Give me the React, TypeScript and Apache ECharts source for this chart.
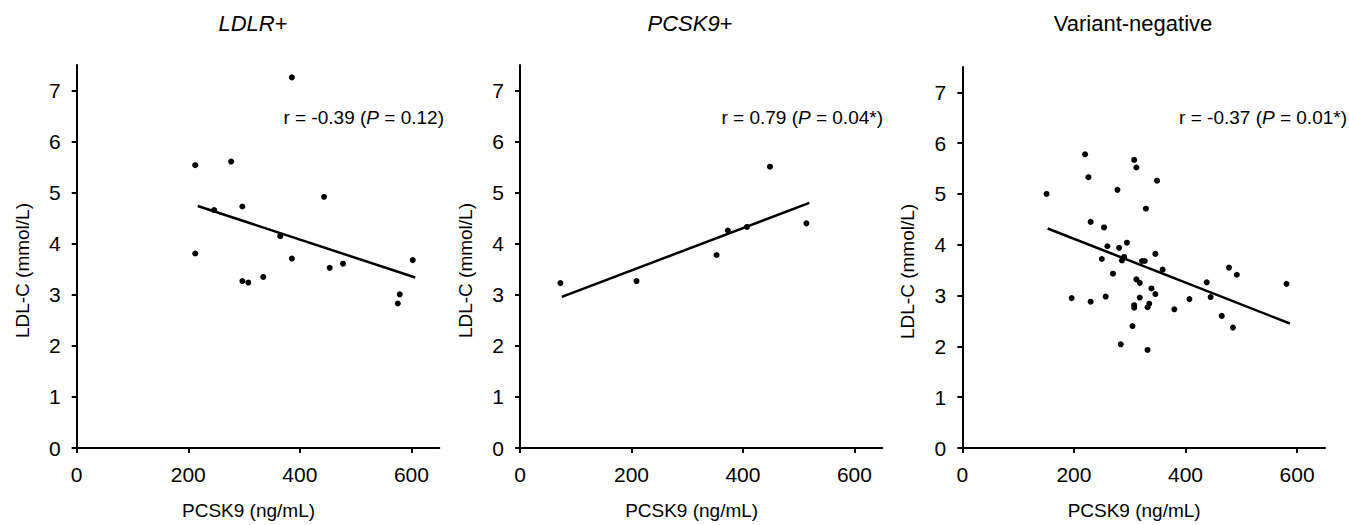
import React, { useEffect, useRef } from "react";
import * as echarts from "echarts";

const panelTitles = ["LDLR", "PCSK9", "Variant-negative"];
const titleItalic = [true, true, false];
const annotations = [
  ["r = -0.39 (", "P", " = 0.12)"],
  ["r = 0.79 (", "P", " = 0.04*)"],
  ["r = -0.37 (", "P", " = 0.01*)"],
];
const xTicks = [0, 200, 400, 600];
const yTicks = [0, 1, 2, 3, 4, 5, 6, 7];
const xAxisName = "PCSK9 (ng/mL)";
const yAxisName = "LDL-C (mmol/L)";

const ldlrPoints: [number, number][] = [
  [385.7, 7.26], [212.5, 5.54], [276.8, 5.61], [443.4, 4.92], [246.4, 4.66],
  [297, 4.73], [364.9, 4.15], [212.5, 3.81], [385.7, 3.71], [602.4, 3.68],
  [477.4, 3.61], [453.5, 3.53], [334.5, 3.35], [297, 3.27], [307.7, 3.24],
  [579.1, 3.01], [575.6, 2.83],
];
const pcsk9Points: [number, number][] = [
  [72.5, 3.23], [209, 3.27], [352.7, 3.78], [373, 4.26], [407.2, 4.33],
  [448.5, 5.51], [513.8, 4.4],
];
const negativePoints: [number, number][] = [
  [151, 5.0], [220, 5.78], [226, 5.33], [230, 4.45], [196, 2.95],
  [230, 2.88], [254, 4.34], [260, 3.97], [250, 3.72], [257, 2.98],
  [270, 3.43], [278, 5.08], [281, 3.94], [295, 4.04], [290, 3.76],
  [286, 3.69], [284, 2.04], [308, 5.67], [312, 5.52], [329, 4.71],
  [349, 5.26], [346, 3.82], [322, 3.68], [327, 3.68], [359, 3.51],
  [312, 3.32], [318, 3.25], [339, 3.14], [346, 3.03], [318, 2.96],
  [308, 2.81], [308, 2.76], [335, 2.84], [332, 2.77], [305, 2.4],
  [332, 1.93], [380, 2.73], [407, 2.93], [438, 3.26], [445, 2.97],
  [465, 2.6], [478, 3.55], [492, 3.41], [485, 2.37], [581, 3.23],
];
const ldlrFit: [number, number][] = [[217, 4.74], [607, 3.34]];
const pcsk9Fit: [number, number][] = [[75, 2.96], [519, 4.8]];
const negativeFit: [number, number][] = [[153, 4.32], [587, 2.45]];

const FONT = "'Liberation Sans', Arial, Helvetica, sans-serif";
const INK = "#000";

const grids = [
  { left: 76.7, top: 65.1, width: 362.6, height: 388.2 },
  { left: 520, top: 65.1, width: 362.3, height: 388.2 },
  { left: 962.3, top: 66.9, width: 362.7, height: 387.4 },
];
const titlePos = [248, 685, 1128];
const annotRight = [444, 883, 1347];

export default function App() {
  const ref = useRef<HTMLDivElement>(null);
  useEffect(() => {
    if (!ref.current) return;
    const chart = echarts.init(ref.current, undefined, { renderer: "svg" });
    const pointSets = [ldlrPoints, pcsk9Points, negativePoints];
    const fits = [ldlrFit, pcsk9Fit, negativeFit];
    const labelStyle = { fontFamily: FONT, fontSize: 21, color: INK };

    const xAxes = grids.map((_, i) => ({
      type: "value",
      gridIndex: i,
      min: 0,
      max: 650,
      name: xAxisName,
      nameLocation: "middle",
      nameGap: 53,
      nameTextStyle: { fontFamily: FONT, fontSize: 19, color: INK, padding: [0, 19, 0, 0] },
      splitLine: { show: false },
      axisLine: { show: true, onZero: false, lineStyle: { color: INK, width: 2 } },
      axisTick: { show: true, length: 5, inside: false, customValues: xTicks, lineStyle: { color: INK, width: 2 } },
      axisLabel: { show: true, customValues: xTicks, margin: 16, ...labelStyle },
    }));
    const yAxes = grids.map((_, i) => ({
      type: "value",
      gridIndex: i,
      min: 0,
      max: 7.5,
      name: yAxisName,
      nameLocation: "middle",
      nameGap: 45,
      nameTextStyle: { fontFamily: FONT, fontSize: 19, color: INK, padding: [0, 28, 0, 0] },
      splitLine: { show: false },
      axisLine: { show: true, onZero: false, lineStyle: { color: INK, width: 2 } },
      axisTick: { show: true, length: 5, inside: false, customValues: yTicks, lineStyle: { color: INK, width: 2 } },
      axisLabel: { show: true, customValues: yTicks, margin: 16, ...labelStyle },
    }));

    const series: any[] = [];
    pointSets.forEach((pts, i) => {
      series.push({
        type: "scatter",
        xAxisIndex: i,
        yAxisIndex: i,
        data: pts,
        symbol: "circle",
        symbolSize: 6,
        itemStyle: { color: "#000", opacity: 1 },
        z: 3,
      });
      series.push({
        type: "line",
        xAxisIndex: i,
        yAxisIndex: i,
        data: fits[i],
        symbol: "none",
        lineStyle: { color: "#000", width: 2.5, opacity: 1 },
        z: 2,
      });
    });

    const titles = panelTitles.map((t, i) => ({
      text: titleItalic[i] ? `{i|${t}}+` : t,
      left: titlePos[i],
      top: 7,
      textAlign: "center",
      textStyle: {
        fontFamily: FONT,
        fontSize: 22,
        fontWeight: "normal",
        color: INK,
        rich: { i: { fontFamily: FONT, fontSize: 22, fontStyle: "italic", color: INK } },
      },
    }));

    const graphic = annotations.map((a, i) => ({
      type: "text",
      x: annotRight[i],
      y: 117,
      style: {
        text: `${a[0]}{p|${a[1]}}${a[2]}`,
        align: "right",
        verticalAlign: "middle",
        fontFamily: FONT,
        fontSize: 19,
        fill: INK,
        rich: { p: { fontFamily: FONT, fontSize: 19, fontStyle: "italic", fill: INK } },
      },
    }));

    chart.setOption({
      animation: false,
      backgroundColor: "#fff",
      textStyle: { fontFamily: FONT, color: INK },
      title: titles,
      grid: grids,
      xAxis: xAxes,
      yAxis: yAxes,
      series,
      graphic,
    });
    return () => chart.dispose();
  }, []);
  return (
    <div
      ref={ref}
      style={{ position: "fixed", left: 0, top: 0, width: "1349px", height: "525px" }}
    />
  );
}
